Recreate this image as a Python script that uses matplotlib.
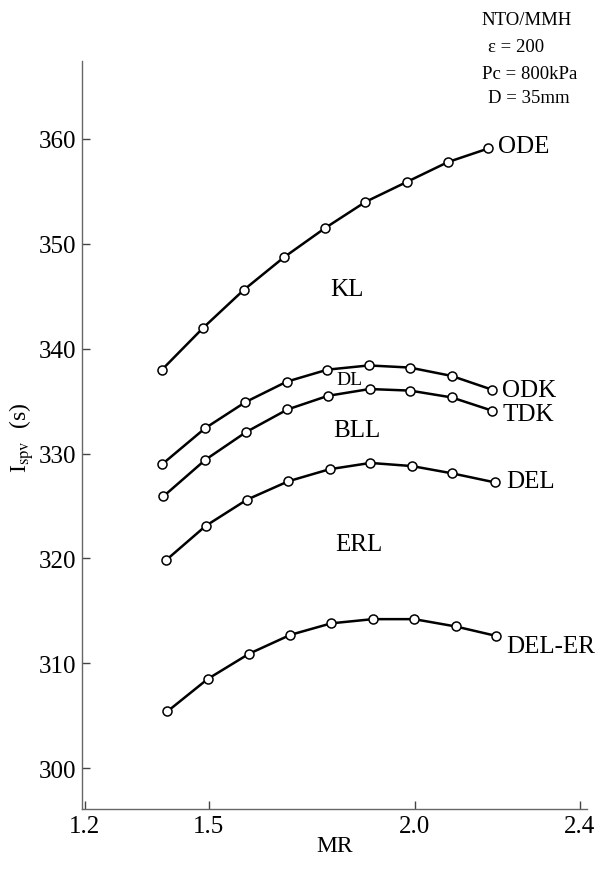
import matplotlib
matplotlib.use("Agg")
import matplotlib.pyplot as plt

plt.rcParams['font.family'] = ['Liberation Serif', 'DejaVu Serif']
plt.rcParams['mathtext.fontset'] = 'stix'

# MR values read per curve (the scan is a little skewed)
mr_ode = [1.387, 1.487, 1.585, 1.682, 1.782, 1.880, 1.980, 2.080, 2.178]
mr_odk = [1.388, 1.491, 1.589, 1.689, 1.788, 1.888, 1.987, 2.089, 2.186]
mr_tdk = [1.390, 1.492, 1.591, 1.691, 1.789, 1.890, 1.988, 2.089, 2.186]
mr_del = [1.396, 1.493, 1.593, 1.693, 1.793, 1.892, 1.993, 2.091, 2.193]
mr_der = [1.400, 1.498, 1.598, 1.698, 1.797, 1.898, 1.998, 2.099, 2.197]

isp_ode = [338.0, 342.0, 345.6, 348.7, 351.5, 354.0, 355.9, 357.8, 359.1]
isp_odk = [329.0, 332.4, 334.9, 336.85, 338.0, 338.4, 338.2, 337.4, 336.1]
isp_tdk = [325.9, 329.4, 332.05, 334.2, 335.5, 336.15, 336.0, 335.35, 334.1]
isp_del = [319.8, 323.1, 325.6, 327.35, 328.5, 329.1, 328.8, 328.1, 327.25]
isp_der = [305.4, 308.5, 310.9, 312.7, 313.8, 314.2, 314.2, 313.5, 312.6]

curves = [
    (mr_ode, isp_ode, "ODE", 2.202, 359.3),
    (mr_odk, isp_odk, "ODK", 2.212, 336.06),
    (mr_tdk, isp_tdk, "TDK", 2.212, 333.77),
    (mr_del, isp_del, "DEL", 2.221, 327.38),
    (mr_der, isp_der, "DEL-ER", 2.222, 311.64),
]

regions = [("KL", 1.834, 345.7), ("BLL", 1.859, 332.24), ("ERL", 1.863, 321.37)]

conditions = ["NTO/MMH", "ε = 200", "Pc = 800kPa", "D = 35mm"]
cond_pos = [(2.161, 371.4), (2.178, 368.8), (2.163, 366.2), (2.178, 364.0)]

xticks = [1.2, 1.5, 2.0, 2.4]
yticks = [300, 310, 320, 330, 340, 350, 360]

fig = plt.figure(figsize=(6.07, 8.70), dpi=100)
ax = fig.add_axes([82 / 607, 1 - 810 / 870, (587 - 82) / 607, (810 - 62) / 870])

for x, y, name, tx, ty in curves:
    ax.plot(x, y, color='black', lw=1.8, marker='o', ms=6.5,
            mfc='white', mec='black', mew=1.1, clip_on=False)
    ax.text(tx, ty, name, fontsize=18, ha='left', va='center')

for name, tx, ty in regions:
    ax.text(tx, ty, name, fontsize=18, ha='center', va='center')
ax.text(1.841, 337.1, "DL", fontsize=14, ha='center', va='center')

for s, (tx, ty) in zip(conditions, cond_pos):
    ax.text(tx, ty, s, fontsize=13.5, ha='left', va='center')

ax.set_xlim(1.193, 2.417)
ax.set_ylim(296.09, 367.44)
ax.set_xticks(xticks)
ax.set_xticklabels(["1.2", "1.5", "2.0", "2.4"])
ax.set_yticks(yticks)
ax.tick_params(direction='in', length=6, width=1, labelsize=18, pad=4, color='#444444')

for side in ['top', 'right']:
    ax.spines[side].set_visible(False)
for side in ['left', 'bottom']:
    ax.spines[side].set_color('#666666')
    ax.spines[side].set_linewidth(1.0)

fig.text(335 / 607, 1 - 847 / 870, "MR", fontsize=17, ha='center', va='center')
fig.text(22 / 607, 1 - 438 / 870, r"I$_{\mathrm{spv}}$  (s)", fontsize=17,
         rotation=90, ha='center', va='center')

fig.savefig("out.png", dpi=100)
